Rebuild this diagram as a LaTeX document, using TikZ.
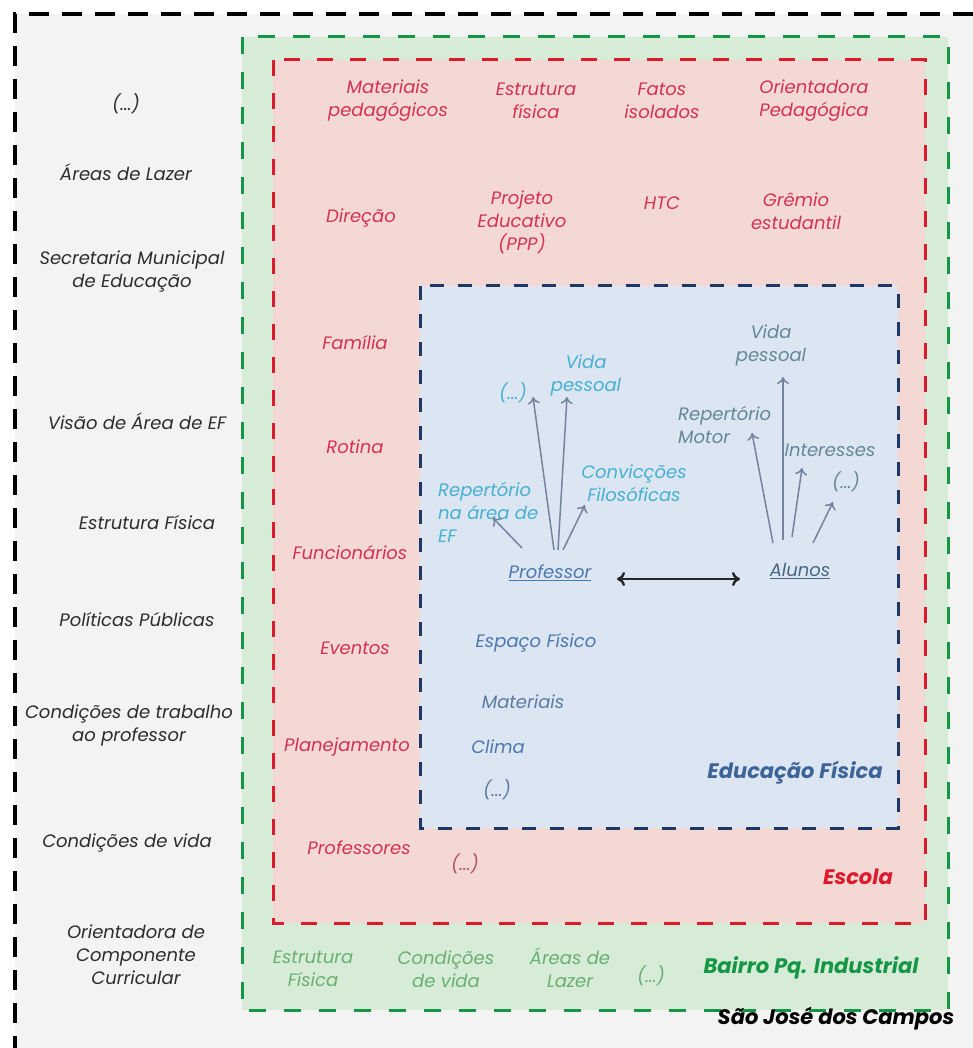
\documentclass[tikz,border=0pt]{standalone}
\usepackage{fontspec}
\setmainfont{Poppins}
\usetikzlibrary{arrows.meta}
\definecolor{bgray}{RGB}{243,243,243}
\definecolor{gfill}{RGB}{214,236,214}
\definecolor{rfill}{RGB}{244,216,212}
\definecolor{bfill}{RGB}{220,230,242}
\definecolor{gline}{RGB}{20,150,70}
\definecolor{rline}{RGB}{220,25,45}
\definecolor{bline}{RGB}{30,55,100}
\definecolor{ktxt}{RGB}{45,45,45}
\definecolor{rtxt}{RGB}{210,50,85}
\definecolor{ctxt}{RGB}{70,175,210}
\definecolor{stxt}{RGB}{75,120,175}
\definecolor{atxt}{RGB}{100,135,150}
\definecolor{gtxt}{RGB}{105,175,115}
\definecolor{arrc}{RGB}{115,132,160}
\tikzset{
  txt/.style={font=\itshape\fontsize{18}{23}\selectfont, align=center, inner sep=1pt},
  ltxt/.style={txt, text=ktxt},
  redt/.style={txt, text=rtxt},
  cyant/.style={txt, text=ctxt},
  steelt/.style={txt, text=stxt},
  alut/.style={txt, text=atxt},
  greent/.style={txt, text=gtxt},
  ttl/.style={font=\bfseries\itshape\fontsize{21}{24}\selectfont, inner sep=1pt},
  arr/.style={draw=arrc, line width=1.5pt, -{To[length=7pt,width=12pt]}},
}
\begin{document}
\begin{tikzpicture}[x=1pt,y=-1pt]
\useasboundingbox (0,0) rectangle (973,1048);
\fill[white] (0,0) rectangle (973,1048);
\fill[bgray] (15,14) rectangle (973,1048);
% outer black dashed lines
\draw[black, line width=3.5pt, dash pattern=on 20pt off 13pt] (973,14) -- (15,14) -- (15,1048);
% green box
\draw[fill=gfill, draw=gline, line width=3pt, dash pattern=on 17pt off 18pt] (242,37) rectangle (948,1010);
% red box
\draw[fill=rfill, draw=rline, line width=3pt, dash pattern=on 16pt off 17pt] (273,60) rectangle (925,923);
% blue box
\draw[fill=bfill, draw=bline, line width=3pt, dash pattern=on 14pt off 14pt] (420,286) rectangle (898,828);

% left column
\node[ltxt] (l1) at (126,104) {(...)};
\node[ltxt] (l2) at (126,172) {Áreas de Lazer};
\node[ltxt] (l3) at (132,271) {Secretaria Municipal\\de Educação};
\node[ltxt] (l4) at (137,421) {Visão de Área de EF};
\node[ltxt] (l5) at (147,523) {Estrutura Física};
\node[ltxt] (l6) at (137,620) {Políticas Públicas};
\node[ltxt] (l7) at (129,725) {Condições de trabalho\\ao professor};
\node[ltxt] (l8) at (127,843) {Condições de vida};
\node[ltxt] (l9) at (136,955) {Orientadora de\\Componente\\Curricular};

% red (Escola)
\node[redt] (r1) at (388,101) {Materiais\\pedagógicos};
\node[redt] (r2) at (536,101) {Estrutura\\física};
\node[redt] (r3) at (662,101) {Fatos\\isolados};
\node[redt] (r4) at (814,101) {Orientadora\\Pedagógica};
\node[redt] (r5) at (361,218) {Direção};
\node[redt] (r6) at (522,222) {Projeto\\Educativo\\(PPP)};
\node[redt] (r7) at (662,203) {HTC};
\node[redt] (r8) at (796,211) {Grêmio\\estudantil};
\node[redt] (r9) at (355,343) {Família};
\node[redt] (r10) at (355,447) {Rotina};
\node[redt] (r11) at (350,553) {Funcionários};
\node[redt] (r12) at (355,648) {Eventos};
\node[redt] (r13) at (347,747) {Planejamento};
\node[redt] (r14) at (359,848) {Professores};
\node[txt, text=rtxt!60!gray] (r15) at (465,864) {(...)};
\node[ttl, text=rline] (escola) at (858,877) {Escola};

% blue (Educação Física)
\node[steelt] (b1) at (536,643) {Espaço Físico};
\node[txt, text=stxt!70!gray] (b2) at (523,702) {Materiais};
\node[steelt] (b3) at (498,747) {Clima};
\node[txt, text=stxt!70!gray] (b4) at (497,790) {(...)};
\node[ttl, text=stxt!70!bline] (edf) at (795,773) {Educação Física};

% professor side
\node[txt, text=stxt] (prof) at (550,573) {\underline{Professor}};
\node[cyant] (pdots) at (513,393) {(...)};
\node[cyant] (pvida) at (586,375) {Vida\\pessoal};
\node[cyant, align=left, anchor=west] (prep) at (437,512) {Repertório\\na área de\\EF};
\node[cyant] (pconv) at (634,483) {Convicções\\Filosóficas};

% alunos side
\node[txt, text=atxt!60!bline] (alu) at (800,571) {\underline{Alunos}};
\node[alut] (avida) at (771,345) {Vida\\pessoal};
\node[alut, align=left, anchor=west] (arep) at (677,425) {Repertório\\Motor};
\node[alut] (aint) at (830,450) {Interesses};
\node[alut] (adots) at (846,482) {(...)};

% arrows from Professor
\draw[arr] ([shift={(-28,-25)}]prof.center) -- ([shift={(56,6)}]prep.west);
\draw[arr] ([shift={(4,-23)}]prof.center) -- ([shift={(20,4)}]pdots.center);
\draw[arr] ([shift={(8,-23)}]prof.center) -- ([shift={(-19,22)}]pvida.center);
\draw[arr] ([shift={(13,-23)}]prof.center) -- ([shift={(-49,22)}]pconv.center);
% arrows from Alunos
\draw[arr] ([shift={(-27,-28)}]alu.center) -- ([shift={(75,8)}]arep.west);
\draw[arr] ([shift={(-17,-31)}]alu.center) -- ([shift={(12,32)}]avida.center);
\draw[arr] ([shift={(-8,-34)}]alu.center) -- ([shift={(-28,18)}]aint.center);
\draw[arr] ([shift={(13,-28)}]alu.center) -- ([shift={(-13,20)}]adots.center);
% double arrow
\draw[black!85, line width=2.4pt, {To[length=8pt,width=14pt]}-{To[length=8pt,width=14pt]}] ([shift={(67,6)}]prof.center) -- ([shift={(-60,8)}]alu.center);

% green (Bairro)
\node[greent] (g1) at (313,969) {Estrutura\\Física};
\node[greent] (g2) at (446,969) {Condições\\de vida};
\node[greent] (g3) at (570,968) {Áreas de\\Lazer};
\node[greent] (g4) at (651,976) {(...)};
\node[ttl, text=gline] (bairro) at (811,968) {Bairro Pq. Industrial};

% city
\node[ttl, text=black] (sjc) at (836,1019) {São José dos Campos};
\end{tikzpicture}
\end{document}
